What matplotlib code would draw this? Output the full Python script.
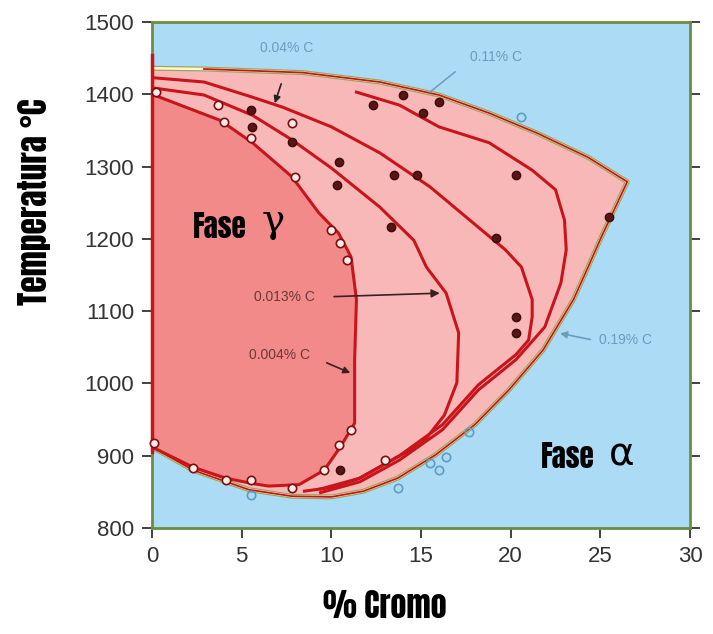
import matplotlib
matplotlib.use("Agg")
import matplotlib.pyplot as plt
from matplotlib import font_manager

# ---- data: phase boundaries (% Cr, temperature in °C) ----
# outer gamma loop, 0.19 % C
outer_cr = [0, 2.3, 5.4, 7.8, 10.0, 11.8, 13.7, 15.8, 18.0, 19.9, 21.8, 23.5, 24.3, 25.1, 25.9, 26.5,
            24.3, 21.5, 18.8, 16.0, 12.7, 8.4, 2.9, 0]
outer_t = [912, 880, 853, 844, 843, 851, 869, 901, 943, 991, 1046, 1116, 1160, 1205, 1247, 1279,
           1313, 1346, 1374, 1399, 1417, 1430, 1435, 1436]

# 0.004 % C loop
c004_cr = [0, 3.8, 5.6, 7.8, 9.3, 10.4, 11.1, 11.4, 11.3, 11.3, 11.3, 10.5, 9.6, 8.2, 6.5, 5.5, 4.1, 2.3, 0]
c004_t = [1400, 1364, 1333, 1286, 1236, 1208, 1175, 1116, 1033, 977, 945, 912, 880, 860, 858, 862, 869, 884, 912]

# 0.013 % C loop
c013_cr = [0, 2.9, 5.6, 7.8, 10.0, 12.7, 14.6, 15.3, 16.4, 17.1, 17.0, 16.3, 15.1, 13.1, 11.5, 10.0, 8.5]
c013_t = [1409, 1399, 1371, 1337, 1298, 1244, 1198, 1161, 1125, 1070, 1001, 956, 918, 890, 868, 856, 851]

# 0.04 % C loop
c04_cr = [0, 2.9, 5.6, 7.3, 10.0, 12.7, 15.5, 18.2, 19.7, 20.6, 21.2, 21.2, 21.0, 20.3, 18.2, 16.2, 13.8, 11.6, 9.4]
c04_t = [1423, 1417, 1396, 1382, 1355, 1319, 1272, 1216, 1185, 1161, 1116, 1092, 1060, 1040, 998, 943, 900, 869, 854]

# 0.11 % C loop
c11_cr = [11.4, 13.8, 16.0, 18.8, 21.2, 22.5, 23.0, 23.1, 22.8, 21.9, 20.3, 18.2, 16.2, 13.8, 11.6, 9.4]
c11_t = [1403, 1385, 1355, 1333, 1295, 1268, 1226, 1185, 1139, 1078, 1033, 991, 936, 894, 864, 849]

# measured points
open_cr = [0.2, 3.7, 4.0, 5.5, 8.0, 10.0, 10.5, 10.9, 0.1, 2.3, 4.1, 5.5, 7.8, 9.6, 10.4, 11.1, 13.0, 7.8]
open_t = [1403, 1385, 1362, 1340, 1286, 1212, 1194, 1171, 918, 883, 867, 867, 856, 880, 915, 936, 894, 1360]

dark_cr = [5.6, 5.5, 7.8, 10.4, 10.3, 13.5, 14.8, 12.3, 14.0, 15.1, 16.0, 13.3, 20.3, 19.2, 25.5, 20.3, 20.3, 10.5]
dark_t = [1355, 1378, 1334, 1306, 1275, 1288, 1288, 1385, 1399, 1374, 1389, 1216, 1288, 1201, 1230, 1092, 1070, 880]

blue_cr = [20.6, 5.5, 13.7, 15.5, 16.0, 16.4, 17.7]
blue_t = [1369, 846, 856, 890, 880, 898, 933]

x_ticks = [0, 5, 10, 15, 20, 25, 30]
y_ticks = [800, 900, 1000, 1100, 1200, 1300, 1400, 1500]

# ---- fonts ----
available = {f.name for f in font_manager.fontManager.ttflist}
narrow = None
for fam, wt in [("Anton", "normal"), ("Oswald", "bold"), ("Roboto Condensed", "bold"),
                ("Archivo Narrow", "bold"), ("Liberation Sans Narrow", "bold")]:
    if fam in available:
        narrow = dict(family=fam, fontweight=wt)
        break
if narrow is None:
    narrow = dict(family="DejaVu Sans", fontweight="bold", fontstretch="condensed")
plain = "Liberation Sans" if "Liberation Sans" in available else "DejaVu Sans"

BLUE_BG = "#acdcf5"
PINK = "#f9b8b8"
SALMON = "#f28a8a"
RED = "#c8151b"
DARK = "#7a1010"
FRAME = "#6b8e3d"

fig = plt.figure(figsize=(7.13, 6.34), dpi=100)
ax = fig.add_axes([152 / 713, 1 - 528 / 634, (690 - 152) / 713, (528 - 22) / 634])
ax.set_facecolor(BLUE_BG)
ax.set_xlim(0, 30)
ax.set_ylim(800, 1500)

# filled regions
ax.fill(outer_cr, outer_t, color=PINK, zorder=1, lw=0)
ax.fill(c004_cr, c004_t, color=SALMON, zorder=1.1, lw=0)

# boundaries
ax.plot(outer_cr, outer_t, color="#9aa85a", lw=3.6, zorder=2, solid_capstyle="round")
ax.plot(outer_cr, outer_t, color="#fff6d8", lw=1.8, zorder=2.05)
ax.plot(outer_cr[:-1], outer_t[:-1], color=RED, lw=1.3, zorder=2.1)
for cr, t in [(c004_cr, c004_t), (c013_cr, c013_t), (c04_cr, c04_t), (c11_cr, c11_t)]:
    ax.plot(cr, t, color=RED, lw=2.2, zorder=2.2)
ax.plot([0, 0], [905, 1455], color=RED, lw=2.5, zorder=3, clip_on=False)

# measured points
ax.plot(open_cr, open_t, "o", ms=6, mfc="#fbeaea", mec=DARK, mew=1.2, zorder=3.5, clip_on=False)
ax.plot(dark_cr, dark_t, "o", ms=6, mfc="#5a1414", mec="#3a0a0a", mew=1.0, zorder=3.5)
ax.plot(blue_cr, blue_t, "o", ms=6, mfc="none", mec="#5f9cc0", mew=1.2, zorder=3.5)

# annotations
lab_blue = "#6a9cbf"
lab_dark = "#6e3838"
ax.text(7.5, 1464, "0.04% C", color=lab_blue, fontsize=10, family=plain, ha="center", va="center", zorder=5)
ax.annotate("", xy=(6.8, 1384), xytext=(7.25, 1418),
            arrowprops=dict(arrowstyle="-|>", color="#222222", lw=1.2, mutation_scale=10), zorder=5)
ax.text(19.2, 1452, "0.11% C", color=lab_blue, fontsize=10, family=plain, ha="center", va="center", zorder=5)
ax.plot([16.9, 15.5], [1431, 1403], color=lab_blue, lw=1.1, zorder=5)
ax.text(26.4, 1060, "0.19% C", color=lab_blue, fontsize=10, family=plain, ha="center", va="center", zorder=5)
ax.annotate("", xy=(22.6, 1070), xytext=(24.6, 1060),
            arrowprops=dict(arrowstyle="-|>", color=lab_blue, lw=1.2, mutation_scale=10), zorder=5)
ax.text(7.4, 1120, "0.013% C", color=lab_dark, fontsize=10, family=plain, ha="center", va="center", zorder=5)
ax.annotate("", xy=(16.2, 1125), xytext=(10.0, 1120),
            arrowprops=dict(arrowstyle="-|>", color="#3a2020", lw=1.2, mutation_scale=12), zorder=5)
ax.text(7.1, 1039, "0.004% C", color=lab_dark, fontsize=10, family=plain, ha="center", va="center", zorder=5)
ax.annotate("", xy=(11.2, 1013), xytext=(9.6, 1030),
            arrowprops=dict(arrowstyle="-|>", color="#3a2020", lw=1.2, mutation_scale=10), zorder=5)

ax.text(3.8, 1216, "Fase", fontsize=21, color="black", ha="center", va="center", zorder=5, **narrow)
ax.text(6.75, 1224, "γ", fontsize=28, color="black", family="DejaVu Serif", ha="center", va="center", zorder=5)
ax.text(23.2, 898, "Fase", fontsize=21, color="black", ha="center", va="center", zorder=5, **narrow)
ax.text(26.2, 902, "α", fontsize=28, color="black", family="DejaVu Sans", ha="center", va="center", zorder=5)

# axes styling
for side in ["left", "right", "top", "bottom"]:
    ax.spines[side].set_color(FRAME)
    ax.spines[side].set_linewidth(2)
ax.set_xticks(x_ticks)
ax.set_yticks(y_ticks)
ax.tick_params(axis="both", direction="out", length=7, width=1.3, color="#333333",
               labelsize=16, labelcolor="#333333", pad=6)
ax.tick_params(axis="y", right=True)
for lab in ax.get_xticklabels() + ax.get_yticklabels():
    lab.set_family(plain)

fig.text(385 / 713, 1 - 606 / 634, "% Cromo", fontsize=23, ha="center", va="center", **narrow)
fig.text(35 / 713, 1 - 202 / 634, "Temperatura °C", fontsize=24, rotation=90,
         ha="center", va="center", **narrow)

fig.savefig("out.png", dpi=100)
